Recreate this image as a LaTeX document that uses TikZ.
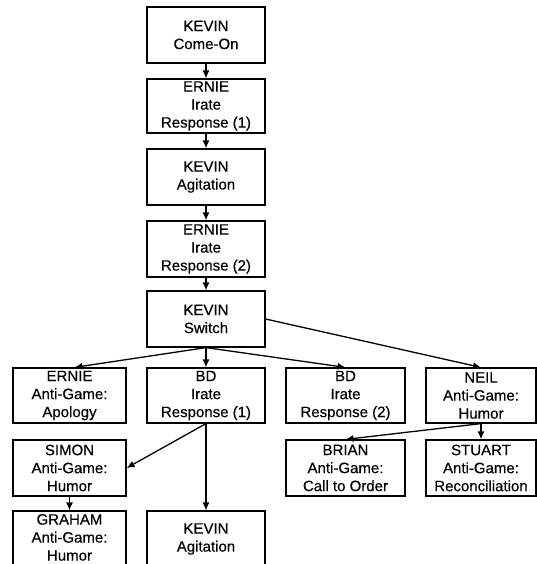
\documentclass[tikz,border=0pt]{standalone}
\usepackage{fontspec}
\setmainfont{Liberation Sans}
\newfontfamily\boxfont{Liberation Sans}[FakeBold=0.4]
\usetikzlibrary{arrows.meta}
\newcommand{\upshifted}[1]{\raisebox{2.5pt}{\begin{tabular}{@{}c@{}}#1\end{tabular}}}
\begin{document}
\begin{tikzpicture}[x=1pt,y=-1pt,
  box/.style={draw, line width=1.2pt, rectangle, align=center, inner sep=0pt,
    font=\boxfont\fontsize{15}{18}\selectfont, text=black},
  conn/.style={line width=1.3pt, -{Latex[length=8pt,width=7pt]}}]
\useasboundingbox (0,0) rectangle (537,564);
\begin{scope}
\clip (0,0) rectangle (537,564);
\node[box, minimum width=118pt, minimum height=56pt] (k1) at (206,35) {KEVIN\\Come-On};
\node[box, minimum width=118pt, minimum height=54pt] (e1) at (206,106) {ERNIE\\Irate\\Response (1)};
\node[box, minimum width=118pt, minimum height=56pt] (k2) at (206,177) {KEVIN\\Agitation};
\node[box, minimum width=118pt, minimum height=56pt] (e2) at (206,249) {ERNIE\\Irate\\Response (2)};
\node[box, minimum width=118pt, minimum height=56pt] (sw) at (206,319) {KEVIN\\Switch};
\node[box, minimum width=113pt, minimum height=55pt] (ea) at (69.5,395.5) {ERNIE\\Anti-Game:\\Apology};
\node[box, minimum width=118pt, minimum height=55pt] (bd1) at (206,395.5) {BD\\Irate\\Response (1)};
\node[box, minimum width=119pt, minimum height=55pt] (bd2) at (345.5,395.5) {BD\\Irate\\Response (2)};
\node[box, minimum width=110pt, minimum height=55pt] (neil) at (481,395.5) {NEIL\\Anti-Game:\\Humor};
\node[box, minimum width=113pt, minimum height=56pt] (simon) at (69.5,468) {SIMON\\Anti-Game:\\Humor};
\node[box, minimum width=119pt, minimum height=56pt] (brian) at (345.5,468) {BRIAN\\Anti-Game:\\Call to Order};
\node[box, minimum width=110pt, minimum height=56pt] (stuart) at (481,468) {STUART\\Anti-Game:\\Reconciliation};
\node[box, minimum width=113pt, minimum height=56pt] (graham) at (69.5,539) {\upshifted{GRAHAM\\Anti-Game:\\Humor}};
\node[box, minimum width=118pt, minimum height=56pt] (k3) at (206,539) {\upshifted{KEVIN\\Agitation}};
\draw[conn] (k1.south) -- (e1.north);
\draw[conn] (e1.south) -- (k2.north);
\draw[conn] (k2.south) -- (e2.north);
\draw[conn] (e2.south) -- (sw.north);
\draw[conn] (sw.south) -- ([xshift=5pt]ea.north);
\draw[conn] (sw.south) -- (bd1.north);
\draw[conn] (sw.south) -- (bd2.north);
\draw[conn] (sw.east) -- (neil.north);
\draw[conn] (bd1.south) -- (simon.east);
\draw[conn] (bd1.south) -- (k3.north);
\draw[conn] (simon.south) -- (graham.north);
\draw[conn] (neil.south) -- (brian.north);
\draw[conn] (neil.south) -- (stuart.north);
\end{scope}
\end{tikzpicture}
\end{document}
